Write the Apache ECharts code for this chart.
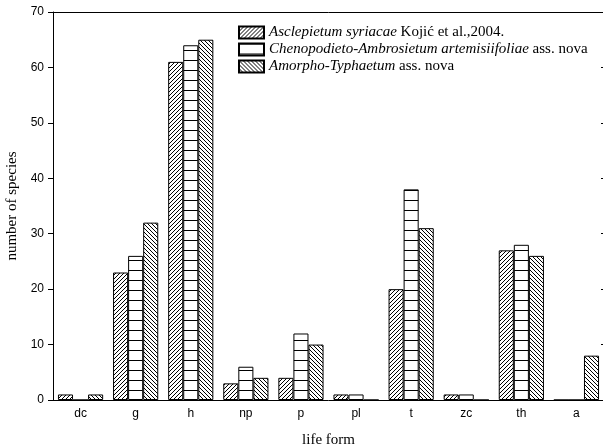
<!DOCTYPE html>
<html>
<head>
<meta charset="utf-8">
<script src="https://cdn.jsdelivr.net/npm/echarts@6/dist/echarts.min.js"></script>
<style>html,body{margin:0;padding:0;background:#fff;}#c{width:603px;height:446px;}</style>
</head>
<body>
<div id="c"></div>
<script>
var categories = ['dc', 'g', 'h', 'np', 'p', 'pl', 't', 'zc', 'th', 'a'];
var seriesNames = ['Asclepietum syriacae Kojić et al.,2004.', 'Chenopodieto-Ambrosietum artemisiifoliae ass. nova', 'Amorpho-Typhaetum ass. nova'];
var asclepietum = [1, 23, 61, 3, 4, 1, 20, 1, 27, 0];
var chenopodieto = [0, 26, 64, 6, 12, 1, 38, 1, 28, 0];
var amorpho = [1, 32, 65, 4, 10, 0, 31, 0, 26, 8];
var yTicks = [0, 10, 20, 30, 40, 50, 60, 70];

function makePattern(kind) {
  var n = kind === 'h' ? 10 : 4;
  var c = document.createElement('canvas');
  c.width = n; c.height = n;
  var ctx = c.getContext('2d');
  ctx.fillStyle = '#fff';
  ctx.fillRect(0, 0, n, n);
  ctx.fillStyle = '#000';
  for (var x = 0; x < n; x++) {
    for (var y = 0; y < n; y++) {
      var on = false;
      if (kind === 'f') on = ((x + y) % n) === 0;
      else if (kind === 'b') on = (((x - y) % n) + n) % n === 0;
      else if (kind === 'h') on = y === 0;
      if (on) ctx.fillRect(x, y, 1, 1);
    }
  }
  return { image: c, repeat: 'repeat' };
}

var patterns = [makePattern('f'), makePattern('h'), makePattern('b')];
var dataSets = [asclepietum, chenopodieto, amorpho];
var italicParts = ['Asclepietum syriacae', 'Chenopodieto-Ambrosietum artemisiifoliae', 'Amorpho-Typhaetum'];
var normalParts = [' Kojić et al.,2004.', ' ass. nova', ' ass. nova'];

var chart = echarts.init(document.getElementById('c'));
var font = 'Liberation Sans, Arial, sans-serif';
var serif = 'Liberation Serif, Times New Roman, serif';

chart.setOption({
  animation: false,
  backgroundColor: '#fff',
  grid: { left: 53, right: -1, top: 12, bottom: 46, containLabel: false, outerBoundsMode: 'none' },
  legend: {
    orient: 'vertical',
    left: 233,
    top: 20,
    itemWidth: 25,
    itemHeight: 12,
    itemGap: 2,
    icon: 'rect',
    selectedMode: false,
    data: seriesNames,
    formatter: function (name) {
      var i = seriesNames.indexOf(name);
      return '{i|' + italicParts[i] + '}{n|' + normalParts[i] + '}';
    },
    textStyle: {
      fontFamily: serif, fontSize: 15, color: '#000',
      rich: {
        i: { fontFamily: serif, fontSize: 15, fontStyle: 'italic', color: '#000' },
        n: { fontFamily: serif, fontSize: 15, color: '#000' }
      }
    }
  },
  xAxis: [{
    type: 'category',
    data: categories,
    position: 'bottom',
    name: 'life form',
    nameLocation: 'middle',
    nameGap: 33,
    nameTextStyle: { fontFamily: serif, fontSize: 15, color: '#000' },
    axisLine: { onZero: false, lineStyle: { color: '#000', width: 1 } },
    axisTick: { inside: true, length: 3, lineStyle: { color: '#000' } },
    axisLabel: { fontFamily: font, fontSize: 12, color: '#000', margin: 8 },
    splitLine: { show: false }
  }, {
    type: 'category',
    data: categories,
    position: 'top',
    axisLine: { onZero: false, lineStyle: { color: '#000', width: 1 } },
    axisTick: { inside: true, length: 4, lineStyle: { color: '#000' } },
    axisLabel: { show: false },
    splitLine: { show: false }
  }],
  yAxis: [{
    type: 'value',
    min: 0, max: 70, interval: 10,
    name: 'number of species',
    nameLocation: 'middle',
    nameGap: 28,
    nameTextStyle: { fontFamily: serif, fontSize: 15, color: '#000' },
    axisLine: { show: true, onZero: false, lineStyle: { color: '#000', width: 1 } },
    axisTick: { show: true, inside: false, length: 5, lineStyle: { color: '#000' } },
    axisLabel: { fontFamily: font, fontSize: 12, color: '#000', margin: 9,
      formatter: function (v) { return yTicks.indexOf(v) >= 0 ? String(v) : ''; } },
    splitLine: { show: false }
  }, {
    type: 'value',
    min: 0, max: 70, interval: 10,
    position: 'right',
    axisLine: { show: true, onZero: false, lineStyle: { color: '#000', width: 1 } },
    axisTick: { show: true, inside: true, length: 3, lineStyle: { color: '#000' } },
    axisLabel: { show: false },
    splitLine: { show: false }
  }],
  series: dataSets.map(function (d, i) {
    return {
      name: seriesNames[i],
      type: 'bar',
      xAxisIndex: 0,
      yAxisIndex: 0,
      data: d,
      barGap: '0%',
      barCategoryGap: '18%',
      itemStyle: { color: patterns[i], borderColor: '#000', borderWidth: 1 },
      emphasis: { disabled: true }
    };
  })
});
</script>
</body>
</html>
